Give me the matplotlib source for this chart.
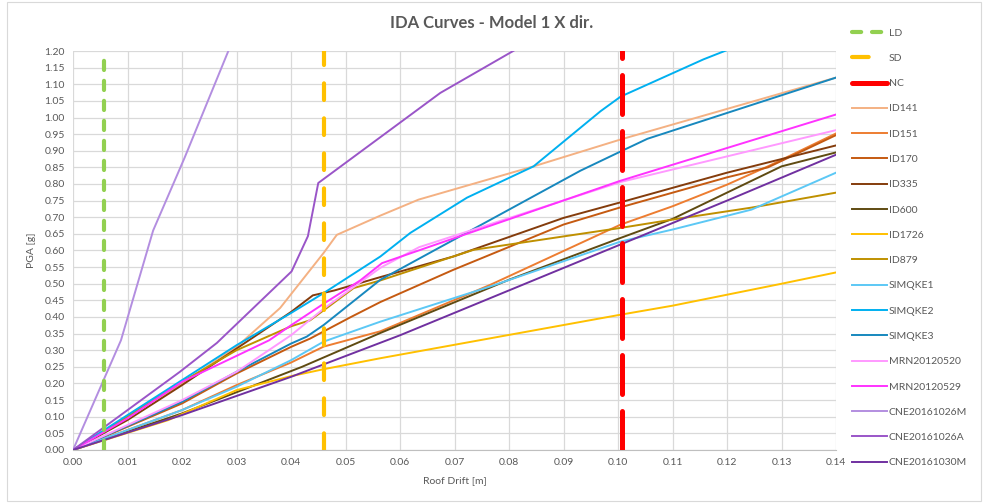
import matplotlib
matplotlib.use("Agg")
import matplotlib.pyplot as plt

plt.rcParams["font.family"] = ["Lato", "DejaVu Sans"]

# limit states (roof drift, m)
ld_x = 0.0056
sd_x = 0.0461
nc_x = 0.1007

# IDA curves: roof drift [m] / PGA [g]
id141_x = [0, 0.02, 0.03, 0.038, 0.046, 0.0484, 0.0564, 0.0634, 0.0845, 0.1005, 0.14]
id141_y = [0, 0.20, 0.31, 0.427, 0.593, 0.647, 0.705, 0.753, 0.853, 0.934, 1.12]
id151_x = [0, 0.02, 0.03, 0.04, 0.046, 0.0564, 0.0766, 0.1005, 0.11, 0.12, 0.1275, 0.14]
id151_y = [0, 0.12, 0.195, 0.263, 0.311, 0.357, 0.497, 0.678, 0.733, 0.798, 0.853, 0.952]
id170_x = [0, 0.02, 0.03, 0.04, 0.0435, 0.051, 0.0564, 0.0698, 0.09, 0.1005, 0.12, 0.1275, 0.14]
id170_y = [0, 0.14, 0.23, 0.31, 0.335, 0.40, 0.445, 0.542, 0.678, 0.73, 0.82, 0.85, 0.947]
id335_x = [0, 0.01, 0.02, 0.03, 0.04, 0.044, 0.048, 0.0564, 0.0698, 0.09, 0.1005, 0.12, 0.14]
id335_y = [0, 0.09, 0.195, 0.305, 0.415, 0.465, 0.48, 0.52, 0.582, 0.698, 0.745, 0.834, 0.916]
id600_x = [0, 0.02, 0.042, 0.0564, 0.08, 0.1005, 0.11, 0.12, 0.13, 0.14]
id600_y = [0, 0.11, 0.25, 0.352, 0.512, 0.638, 0.695, 0.774, 0.853, 0.895]
id1726_x = [0, 0.0175, 0.03, 0.04, 0.046, 0.0564, 0.1005, 0.11, 0.12, 0.13, 0.14]
id1726_y = [0, 0.09, 0.18, 0.222, 0.243, 0.276, 0.407, 0.434, 0.467, 0.50, 0.534]
id879_x = [0, 0.01, 0.02, 0.03, 0.04, 0.0435, 0.0515, 0.0564, 0.0735, 0.1005, 0.11, 0.1245, 0.14]
id879_y = [0, 0.10, 0.205, 0.30, 0.372, 0.39, 0.487, 0.51, 0.602, 0.668, 0.693, 0.729, 0.774]
simqke1_x = [0, 0.02, 0.03, 0.04, 0.046, 0.0564, 0.0766, 0.1005, 0.11, 0.1245, 0.14]
simqke1_y = [0, 0.12, 0.19, 0.27, 0.326, 0.386, 0.492, 0.627, 0.663, 0.723, 0.834]
simqke2_x = [0, 0.02, 0.03, 0.0398, 0.046, 0.0564, 0.0619, 0.0723, 0.0845, 0.0968, 0.1005, 0.1157, 0.125]
simqke2_y = [0, 0.21, 0.315, 0.41, 0.472, 0.582, 0.653, 0.759, 0.853, 1.019, 1.063, 1.175, 1.235]
simqke3_x = [0, 0.02, 0.03, 0.04, 0.0429, 0.046, 0.0564, 0.0931, 0.1005, 0.1054, 0.14]
simqke3_y = [0, 0.145, 0.235, 0.32, 0.341, 0.376, 0.512, 0.84, 0.898, 0.936, 1.12]
mrn0520_x = [0, 0.02, 0.03, 0.04, 0.046, 0.0564, 0.0635, 0.1005, 0.14]
mrn0520_y = [0, 0.15, 0.235, 0.345, 0.425, 0.548, 0.61, 0.806, 0.962]
mrn0529_x = [0, 0.01, 0.02, 0.03, 0.036, 0.04, 0.046, 0.0527, 0.0567, 0.1005, 0.14]
mrn0529_y = [0, 0.095, 0.205, 0.283, 0.33, 0.375, 0.44, 0.51, 0.562, 0.81, 1.009]
cne1026m_x = [0, 0.0088, 0.0147, 0.0205, 0.0285, 0.031]
cne1026m_y = [0, 0.33, 0.66, 0.88, 1.20, 1.31]
cne1026a_x = [0, 0.0196, 0.0264, 0.0401, 0.0431, 0.045, 0.0674, 0.085]
cne1026a_y = [0, 0.235, 0.322, 0.537, 0.643, 0.803, 1.074, 1.24]
cne1030m_x = [0, 0.02, 0.04, 0.06, 0.08, 0.1, 0.12, 0.14]
cne1030m_y = [0, 0.105, 0.22, 0.345, 0.48, 0.615, 0.75, 0.888]

curves = [
    ("ID141", id141_x, id141_y, "#F4B183"),
    ("ID151", id151_x, id151_y, "#ED7D31"),
    ("ID170", id170_x, id170_y, "#C55A11"),
    ("ID335", id335_x, id335_y, "#843C0C"),
    ("ID600", id600_x, id600_y, "#5F4B12"),
    ("ID1726", id1726_x, id1726_y, "#FFC000"),
    ("ID879", id879_x, id879_y, "#BF9000"),
    ("SIMQKE1", simqke1_x, simqke1_y, "#5CC8F5"),
    ("SIMQKE2", simqke2_x, simqke2_y, "#00B0F0"),
    ("SIMQKE3", simqke3_x, simqke3_y, "#1788BE"),
    ("MRN20120520", mrn0520_x, mrn0520_y, "#FF99FF"),
    ("MRN20120529", mrn0529_x, mrn0529_y, "#FF33FF"),
    ("CNE20161026M", cne1026m_x, cne1026m_y, "#B38EE0"),
    ("CNE20161026A", cne1026a_x, cne1026a_y, "#9A55C8"),
    ("CNE20161030M", cne1030m_x, cne1030m_y, "#7030A0"),
]

grey = "#595959"
fig = plt.figure(figsize=(9.84, 5.03), dpi=100)
ax = fig.add_axes([0.0742, 0.1054, 0.7754, 0.7932])

ax.axvline(ld_x, color="#92D050", lw=3.0, dashes=(2.2, 2.6),
           dash_capstyle="round", label="LD", zorder=3)
ax.axvline(sd_x, color="#FFC000", lw=3.0, dashes=(4.0, 4.4),
           dash_capstyle="round", label="SD", zorder=3)
ax.axvline(nc_x, color="#FF0000", lw=3.6, dashes=(7.8, 3.4),
           dash_capstyle="round", label="NC", zorder=3)

for name, xs, ys, col in curves:
    ax.plot(xs, ys, color=col, lw=1.4, label=name, zorder=2)

ax.set_xlim(0, 0.14)
ax.set_ylim(0, 1.2)
ax.set_xticks([i / 100 for i in range(15)])
ax.set_yticks([i * 0.05 for i in range(25)])
ax.xaxis.set_major_formatter(matplotlib.ticker.FormatStrFormatter("%.2f"))
ax.yaxis.set_major_formatter(matplotlib.ticker.FormatStrFormatter("%.2f"))
ax.tick_params(length=0, labelsize=7.5, colors=grey, pad=6)
ax.grid(color="#D9D9D9", lw=0.9)
ax.set_axisbelow(True)
for s in ("top", "right", "left"):
    ax.spines[s].set_visible(False)
ax.spines["bottom"].set_color("#BFBFBF")

ax.set_xlabel("Roof Drift [m]", fontsize=7.5, color=grey, labelpad=6)
ax.set_ylabel("PGA [g]", fontsize=7.5, color=grey, labelpad=6)
fig.text(0.5, 0.955, "IDA Curves - Model 1 X dir.", ha="center", va="center",
         fontsize=12, fontweight="bold", color=grey)

leg = ax.legend(loc="upper left", bbox_to_anchor=(0.862, 0.952),
                bbox_transform=fig.transFigure, frameon=False,
                fontsize=7.5, handlelength=3.3, labelspacing=1.535,
                handletextpad=0.2, borderaxespad=0)
for t in leg.get_texts():
    t.set_color(grey)

fig.add_artist(plt.Rectangle((0.007, 0.004), 0.99, 0.992, fill=False,
                             edgecolor="#D9D9D9", lw=0.8,
                             transform=fig.transFigure))

fig.savefig("out.png", dpi=100)
